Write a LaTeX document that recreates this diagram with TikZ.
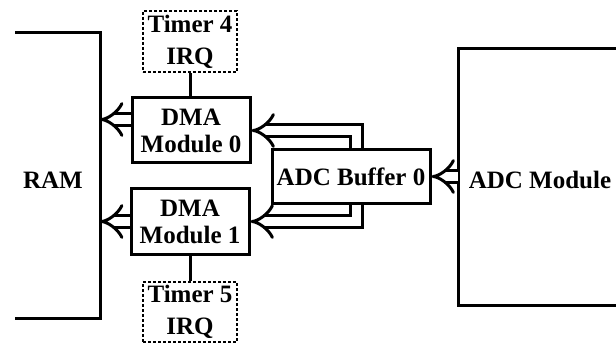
\documentclass[tikz,border=0pt]{standalone}
\usepackage{fontspec}
\setmainfont{Liberation Serif}
\usepackage{tikz}
\usetikzlibrary{calc,arrows.meta,positioning}

\begin{document}
\begin{tikzpicture}[x=1pt,y=1pt]

\tikzset{
  blocklabel/.style={font=\bfseries\fontsize{25}{27}\selectfont, align=center},
  module/.style={draw=black, line width=3pt, fill=white,
                 font=\bfseries\fontsize{25}{27}\selectfont, align=center,
                 minimum width=118pt, minimum height=65pt, inner sep=1pt},
  timer/.style={module, densely dashed, line width=2.6pt,
                 minimum width=94pt, minimum height=61pt},
  boundary/.style={black, line width=3pt},
  link/.style={black, line width=3pt},
  bus/.style={black, double, line width=3pt, double distance=9pt,
              -{Implies}}
}

\useasboundingbox (0,0) rectangle (616,346);

% RAM
\coordinate (ramtop) at (100,313);
\coordinate (rambot) at (100,28);
\draw[boundary] (15,313) -- (ramtop) -- (rambot) -- (15,28);
\node[blocklabel] (ram) at (53,166) {RAM};

% ADC module
\coordinate (adctop) at (458,297);
\coordinate (adcbot) at (458,41);
\draw[boundary] (620,297) -- (adctop) -- (adcbot) -- (620,41);
\node[blocklabel] (adc) at (540,166) {ADC Module};

% DMA modules and timers
\node[timer] (tim4) at (190,304.5) {Timer 4\\[5pt]IRQ};
\node[module] (dma0) at (191,215.5) {DMA\\Module 0};
\node[module, minimum height=66pt] (dma1) at (190,124.5) {DMA\\Module 1};
\node[timer, minimum height=60pt] (tim5) at (190,34) {Timer 5\\[5pt]IRQ};

% Buffer
\node[module, minimum width=158pt, minimum height=53pt] (buf) at (351,169.5) {ADC Buffer 0};

% Lines
\draw[link] (tim4.south) -- (tim4.south |- dma0.north);
\draw[link] (tim5.north) -- (tim5.north |- dma1.south);
\draw[bus] ([yshift=11pt]dma0.west) -- ([yshift=11pt]dma0.west -| ramtop);
\draw[bus] (dma1.west) -- (dma1.west -| ramtop);
\draw[bus] ([xshift=5pt]buf.north) |- (dma0.east);
\draw[bus] ([xshift=5pt]buf.south) |- (dma1.east);
\draw[bus] (adctop |- buf.east) -- (buf.east);

\end{tikzpicture}
\end{document}
